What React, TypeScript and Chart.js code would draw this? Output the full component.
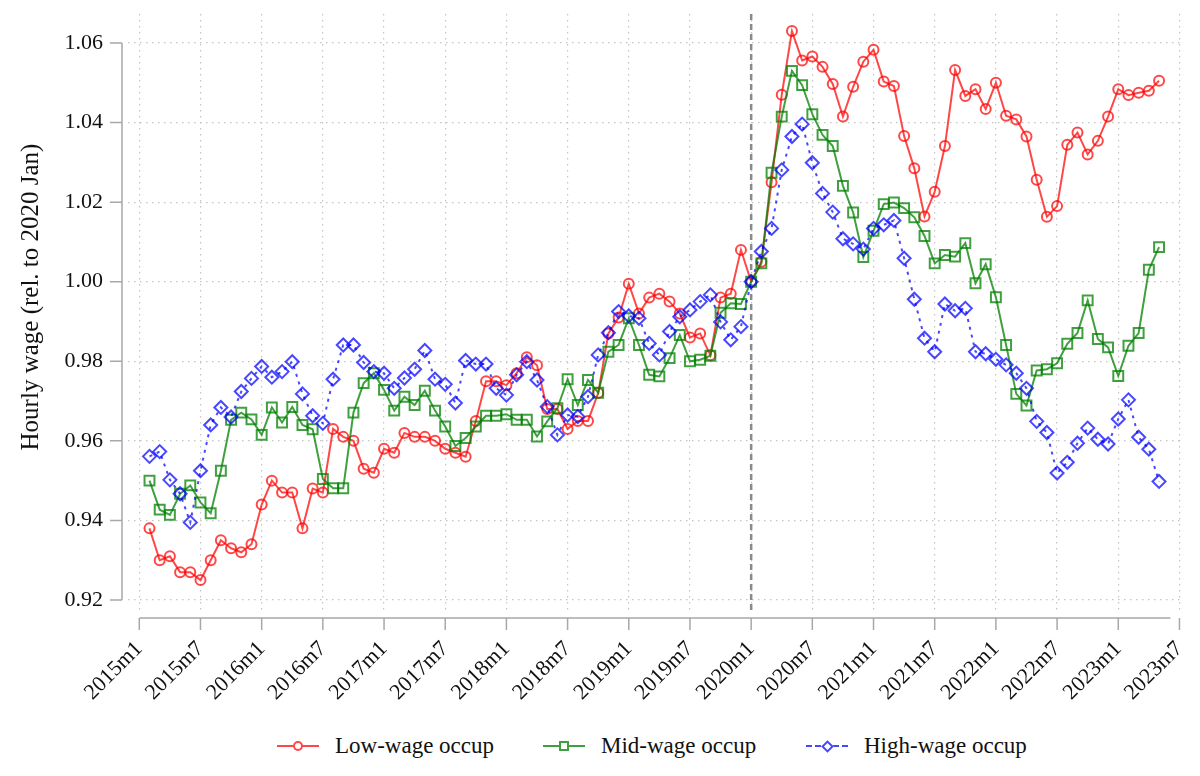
import { useEffect, useRef } from 'react';
import { Chart, registerables, type Plugin } from 'chart.js';

Chart.register(...registerables);

// monthly observations, 2015m2 .. 2023m5
const MONTHS = [
  '2015m2', '2015m3', '2015m4', '2015m5', '2015m6', '2015m7', '2015m8', '2015m9', '2015m10', '2015m11', '2015m12',
  '2016m1', '2016m2', '2016m3', '2016m4', '2016m5', '2016m6', '2016m7', '2016m8', '2016m9', '2016m10', '2016m11', '2016m12',
  '2017m1', '2017m2', '2017m3', '2017m4', '2017m5', '2017m6', '2017m7', '2017m8', '2017m9', '2017m10', '2017m11', '2017m12',
  '2018m1', '2018m2', '2018m3', '2018m4', '2018m5', '2018m6', '2018m7', '2018m8', '2018m9', '2018m10', '2018m11', '2018m12',
  '2019m1', '2019m2', '2019m3', '2019m4', '2019m5', '2019m6', '2019m7', '2019m8', '2019m9', '2019m10', '2019m11', '2019m12',
  '2020m1', '2020m2', '2020m3', '2020m4', '2020m5', '2020m6', '2020m7', '2020m8', '2020m9', '2020m10', '2020m11', '2020m12',
  '2021m1', '2021m2', '2021m3', '2021m4', '2021m5', '2021m6', '2021m7', '2021m8', '2021m9', '2021m10', '2021m11', '2021m12',
  '2022m1', '2022m2', '2022m3', '2022m4', '2022m5', '2022m6', '2022m7', '2022m8', '2022m9', '2022m10', '2022m11', '2022m12',
  '2023m1', '2023m2', '2023m3', '2023m4', '2023m5',
];

const LOW_WAGE = [
  0.938, 0.930, 0.931, 0.927, 0.927, 0.925, 0.930, 0.935, 0.933, 0.932, 0.934,
  0.944, 0.950, 0.947, 0.947, 0.938, 0.948, 0.947, 0.963, 0.961, 0.960, 0.953, 0.952,
  0.958, 0.957, 0.962, 0.961, 0.961, 0.960, 0.958, 0.957, 0.956, 0.965, 0.975, 0.975,
  0.974, 0.977, 0.981, 0.979, 0.968, 0.968, 0.963, 0.965, 0.965, 0.972, 0.987, 0.991,
  0.9995, 0.992, 0.996, 0.997, 0.995, 0.992, 0.986, 0.987, 0.9815, 0.996, 0.997, 1.008,
  1.000, 1.005, 1.025, 1.047, 1.063, 1.0556, 1.0566, 1.054, 1.0497, 1.0415, 1.049, 1.0553,
  1.0583, 1.0503, 1.0492, 1.0366, 1.0285, 1.0164, 1.0226, 1.0341, 1.0532, 1.0467, 1.0484, 1.0434,
  1.050, 1.0417, 1.0408, 1.0365, 1.0256, 1.0163, 1.019, 1.0344, 1.0375, 1.032, 1.0354, 1.0415,
  1.0484, 1.0469, 1.0475, 1.048, 1.0505,
];

const MID_WAGE = [
  0.950, 0.9427, 0.9414, 0.9467, 0.9488, 0.9445, 0.9418, 0.9525, 0.9653, 0.9671, 0.9654,
  0.9615, 0.9684, 0.9646, 0.9685, 0.964, 0.9629, 0.9504, 0.9481, 0.9481, 0.9671, 0.9745, 0.977,
  0.9728, 0.9676, 0.9711, 0.969, 0.9726, 0.9676, 0.9636, 0.9587, 0.9607, 0.9636, 0.9663, 0.9663,
  0.9667, 0.9653, 0.9653, 0.9611, 0.9649, 0.9682, 0.9755, 0.969, 0.9753, 0.9721, 0.9824, 0.9841,
  0.9908, 0.9841, 0.9766, 0.9762, 0.9808, 0.9866, 0.980, 0.9804, 0.9814, 0.9922, 0.9946, 0.9944,
  1.000, 1.0046, 1.0274, 1.0415, 1.053, 1.0494, 1.0421, 1.0369, 1.0341, 1.0241, 1.0174, 1.0062,
  1.0128, 1.0195, 1.0199, 1.0185, 1.0162, 1.0115, 1.0046, 1.0067, 1.0063, 1.0097, 0.9996, 1.0044,
  0.9961, 0.9841, 0.9718, 0.9689, 0.9777, 0.978, 0.9795, 0.9844, 0.9871, 0.9953, 0.9856, 0.9835,
  0.9763, 0.9839, 0.9871, 1.003, 1.0087,
];

const HIGH_WAGE = [
  0.9561, 0.9573, 0.9502, 0.9467, 0.9395, 0.9525, 0.964, 0.9684, 0.966, 0.9724, 0.9757,
  0.9787, 0.976, 0.9774, 0.9799, 0.9718, 0.9663, 0.9644, 0.9755, 0.9841, 0.9841, 0.9797, 0.9774,
  0.977, 0.9732, 0.9758, 0.978, 0.9827, 0.9755, 0.9742, 0.9695, 0.9802, 0.9793, 0.9793, 0.9732,
  0.9715, 0.9766, 0.9799, 0.9753, 0.9686, 0.9615, 0.9665, 0.9661, 0.9711, 0.9816, 0.9872, 0.9925,
  0.9914, 0.9908, 0.9845, 0.9816, 0.9875, 0.9912, 0.9929, 0.995, 0.9967, 0.9899, 0.9854, 0.9887,
  1.000, 1.0076, 1.0134, 1.0281, 1.0365, 1.0396, 1.0299, 1.0222, 1.0175, 1.0108, 1.0095, 1.0082,
  1.0134, 1.0143, 1.0154, 1.0059, 0.9956, 0.9858, 0.9824, 0.9944, 0.9927, 0.9933, 0.9824, 0.9819,
  0.9805, 0.9791, 0.977, 0.9732, 0.9649, 0.9621, 0.9519, 0.9546, 0.9594, 0.9632, 0.9604, 0.9592,
  0.9655, 0.9703, 0.9609, 0.9579, 0.9498,
];

const X_TICKS = [
  '2015m1', '2015m7', '2016m1', '2016m7', '2017m1', '2017m7', '2018m1', '2018m7', '2019m1',
  '2019m7', '2020m1', '2020m7', '2021m1', '2021m7', '2022m1', '2022m7', '2023m1', '2023m7',
];
const Y_TICKS = [0.92, 0.94, 0.96, 0.98, 1.0, 1.02, 1.04, 1.06];
const BREAK_MONTH = '2020m1';
const Y_TITLE = 'Hourly wage (rel. to 2020 Jan)';

const FONT = "'Liberation Serif', 'Times New Roman', serif";
const RED = 'rgba(255,0,0,0.72)';
const GREEN = 'rgba(0,128,0,0.75)';
const BLUE = 'rgba(0,0,255,0.72)';
const AXIS = '#a8a8a8';

const CANVAS_H = 712;
const PLOT_TOP = 14;
const PLOT_BOTTOM = 612;

// months since 2015m1
const monthIndex = (label: string) => {
  const [y, m] = label.split('m').map(Number);
  return (y - 2015) * 12 + (m - 1);
};

const toPoints = (values: number[]) => MONTHS.map((mo, i) => ({ x: monthIndex(mo), y: values[i] }));

// Stata-like detached axis lines, y title and the 2020m1 reference line
const stataAxes: Plugin<'line'> = {
  id: 'stataAxes',
  beforeDatasetsDraw(chart) {
    const { ctx, chartArea, scales } = chart;
    const bx = scales.x.getPixelForValue(monthIndex(BREAK_MONTH));
    ctx.save();
    ctx.strokeStyle = '#8a8a8a';
    ctx.lineWidth = 2.5;
    ctx.setLineDash([6, 4]);
    ctx.beginPath();
    ctx.moveTo(bx, chartArea.top);
    ctx.lineTo(bx, chartArea.bottom);
    ctx.stroke();
    ctx.restore();
  },
  afterDraw(chart) {
    const { ctx, chartArea, scales } = chart;
    const x = scales.x;
    const y = scales.y;
    ctx.save();
    ctx.strokeStyle = AXIS;
    ctx.lineWidth = 1.5;
    ctx.beginPath();
    const ax = chartArea.left - 6;
    ctx.moveTo(ax, y.getPixelForValue(Y_TICKS[0]));
    ctx.lineTo(ax, y.getPixelForValue(Y_TICKS[Y_TICKS.length - 1]));
    for (const t of Y_TICKS) {
      const py = y.getPixelForValue(t);
      ctx.moveTo(ax, py);
      ctx.lineTo(ax - 12, py);
    }
    const ay = chartArea.bottom + 6;
    ctx.moveTo(x.getPixelForValue(monthIndex(X_TICKS[0])), ay);
    ctx.lineTo(x.getPixelForValue(monthIndex(X_TICKS[X_TICKS.length - 1])) - 9, ay);
    for (const t of X_TICKS) {
      const px = x.getPixelForValue(monthIndex(t));
      ctx.moveTo(px, ay);
      ctx.lineTo(px, ay + 12);
    }
    ctx.stroke();

    // y axis title
    ctx.fillStyle = '#111';
    ctx.font = `25px ${FONT}`;
    ctx.textAlign = 'center';
    ctx.textBaseline = 'middle';
    ctx.translate(31, (chartArea.top + chartArea.bottom) / 2 - 16);
    ctx.rotate(-Math.PI / 2);
    ctx.fillText(Y_TITLE, 0, 0);
    ctx.restore();
  },
};

export default function App() {
  const canvasRef = useRef<HTMLCanvasElement>(null);

  useEffect(() => {
    if (!canvasRef.current) return;
    const chart = new Chart(canvasRef.current, {
      type: 'line',
      data: {
        datasets: [
          {
            label: 'Low-wage occup',
            data: toPoints(LOW_WAGE),
            borderColor: RED,
            borderWidth: 2,
            pointStyle: 'circle',
            pointRadius: 5,
            pointBorderWidth: 2,
            pointBorderColor: RED,
            pointBackgroundColor: 'rgba(0,0,0,0)',
            tension: 0,
            order: 3,
          },
          {
            label: 'Mid-wage occup',
            data: toPoints(MID_WAGE),
            borderColor: GREEN,
            borderWidth: 2,
            pointStyle: 'rect',
            pointRadius: 7,
            pointBorderWidth: 2,
            pointBorderColor: GREEN,
            pointBackgroundColor: 'rgba(0,0,0,0)',
            tension: 0,
            order: 2,
          },
          {
            label: 'High-wage occup',
            data: toPoints(HIGH_WAGE),
            borderColor: BLUE,
            borderWidth: 2,
            borderDash: [3, 5],
            pointStyle: 'rectRot',
            pointRadius: 6.5,
            pointBorderWidth: 2,
            pointBorderColor: BLUE,
            pointBackgroundColor: 'rgba(0,0,0,0)',
            tension: 0,
            order: 1,
          },
        ],
      },
      options: {
        animation: false,
        responsive: false,
        events: [],
        layout: { padding: { top: PLOT_TOP, right: 18, left: 0, bottom: 0 } },
        plugins: {
          legend: { display: false },
          tooltip: { enabled: false },
        },
        scales: {
          x: {
            type: 'linear',
            min: -1.108,
            max: 102.25,
            afterBuildTicks: (scale) => {
              scale.ticks = X_TICKS.map((l) => ({ value: monthIndex(l) }));
            },
            afterFit: (scale) => {
              scale.height = CANVAS_H - PLOT_BOTTOM;
              scale.paddingLeft = 0;
              scale.paddingRight = 0;
              scale.paddingTop = 0;
              scale.paddingBottom = 0;
            },
            grid: { color: '#c4c4c4', lineWidth: 1.2, drawTicks: false },
            border: { display: false, dash: [1.5, 4.5] },
            ticks: {
              autoSkip: false,
              minRotation: 45,
              maxRotation: 45,
              padding: 24,
              color: '#111',
              font: { family: FONT, size: 22 },
              callback: (_v, i) => X_TICKS[i],
            },
          },
          y: {
            type: 'linear',
            min: 0.91698,
            max: 1.06729,
            afterBuildTicks: (scale) => {
              scale.ticks = Y_TICKS.map((v) => ({ value: v }));
            },
            afterFit: (scale) => {
              scale.width = 128;
              scale.paddingLeft = 0;
              scale.paddingRight = 0;
              scale.paddingTop = 0;
              scale.paddingBottom = 0;
            },
            grid: { color: '#c4c4c4', lineWidth: 1.2, drawTicks: false },
            border: { display: false, dash: [1.5, 4.5] },
            ticks: {
              padding: 25,
              color: '#111',
              font: { family: FONT, size: 22 },
              callback: (v) => Number(v).toFixed(2),
            },
          },
        },
      },
      plugins: [stataAxes],
    });
    return () => { chart.destroy(); };
  }, []);

  return (
    <div style={{ position: 'absolute', left: 0, top: 0, width: 1200, height: 776, background: '#fff', fontFamily: FONT }}>
      <canvas ref={canvasRef} width={1200} height={CANVAS_H} style={{ display: 'block' }} />
      <LegendItem left={277} color={RED} marker="circle" label="Low-wage occup" />
      <LegendItem left={543} color={GREEN} marker="square" label="Mid-wage occup" />
      <LegendItem left={806} color={BLUE} marker="diamond" dash label="High-wage occup" />
    </div>
  );
}

function LegendItem({ left, color, marker, label, dash }: {
  left: number; color: string; marker: 'circle' | 'square' | 'diamond'; label: string; dash?: boolean;
}) {
  const markerStyle: React.CSSProperties = {
    position: 'absolute',
    left: 21 - 5,
    top: -5,
    width: 10,
    height: 10,
    boxSizing: 'border-box',
    border: `2px solid ${color}`,
    background: '#fff',
  };
  if (marker === 'circle') markerStyle.borderRadius = '50%';
  if (marker === 'diamond') {
    markerStyle.width = 9;
    markerStyle.height = 9;
    markerStyle.left = 21 - 4.5;
    markerStyle.top = -4.5;
    markerStyle.transform = 'rotate(45deg)';
  }
  return (
    <div style={{ position: 'absolute', left, top: 746, height: 0 }}>
      <div style={{
        position: 'absolute', left: 0, top: -1, width: 42, height: 0,
        borderTop: `2px ${dash ? 'dashed' : 'solid'} ${color}`,
      }} />
      <div style={markerStyle} />
      <span style={{
        position: 'absolute', left: 58, top: -15, fontSize: 23, lineHeight: '30px',
        whiteSpace: 'nowrap', color: '#111', fontFamily: FONT,
      }}>{label}</span>
    </div>
  );
}
